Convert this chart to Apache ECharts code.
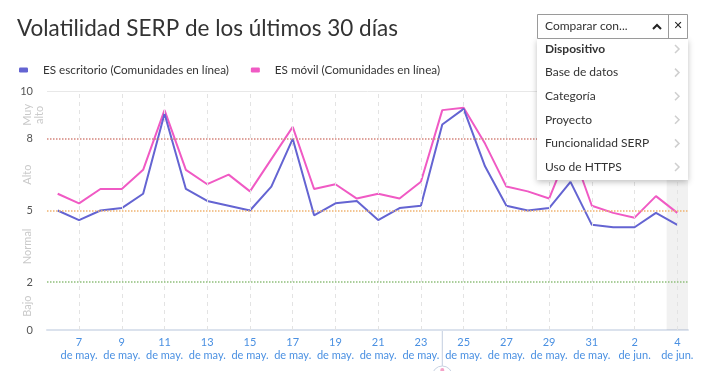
<!DOCTYPE html>
<html><head><meta charset="utf-8">
<script src="https://cdn.jsdelivr.net/npm/echarts@6/dist/echarts.min.js"></script>
<style>html,body{margin:0;padding:0;background:#fff}#c{width:702px;height:371px}</style>
</head><body><div id="c"></div>
<script>
const categories = ['6 de may.','7 de may.','8 de may.','9 de may.','10 de may.','11 de may.','12 de may.','13 de may.','14 de may.','15 de may.','16 de may.','17 de may.','18 de may.','19 de may.','20 de may.','21 de may.','22 de may.','23 de may.','24 de may.','25 de may.','26 de may.','27 de may.','28 de may.','29 de may.','30 de may.','31 de may.','1 de jun.','2 de jun.','3 de jun.','4 de jun.'];
const desktop = [5.0,4.6,5.0,5.1,5.7,9.05,5.9,5.4,5.2,5.0,6.0,8.0,4.8,5.3,5.4,4.6,5.1,5.2,8.6,9.25,6.85,5.2,5.0,5.1,6.2,4.4,4.3,4.3,4.9,4.4];
const mobile = [5.7,5.3,5.9,5.9,6.7,9.2,6.7,6.1,6.5,5.8,7.15,8.5,5.9,6.1,5.5,5.7,5.5,6.2,9.2,9.3,7.8,6.0,5.8,5.5,7.7,5.2,4.9,4.7,5.6,4.9];
const seriesNames = ['ES escritorio (Comunidades en línea)','ES móvil (Comunidades en línea)'];
const yTickValues = [0,2,5,8,10];
const levelValues = [8,5,2];
const zoneNames = ['Bajo','Normal','Alto','Muy\nalto'];
const zoneBounds = [[0,2],[2,5],[5,8],[8,10]];
const highlightDate = '4 de jun.';
const eventDate = '24 de may.';
const menuItems = ['Dispositivo','Base de datos','Categoría','Proyecto','Funcionalidad SERP','Uso de HTTPS'];

const FONT = 'Lato, "Open Sans", sans-serif';
const levelColors = ['#d4847c','#f0b26f','#8fbf7b'];
const chart = echarts.init(document.getElementById('c'));
const highlightValues = categories.map(c => c === highlightDate ? 10 : null);
const vLines = categories.filter((c, i) => i % 2 === 1).map(c => ({xAxis: c}));

chart.setOption({
  animation: false,
  textStyle: {fontFamily: FONT},
  title: {text: 'Volatilidad SERP de los últimos 30 días', left: 12, top: 12,
    textStyle: {fontSize: 22.5, fontWeight: 'normal', color: '#333', fontFamily: FONT}},
  legend: {left: 14, top: 59, itemGap: 22, itemWidth: 9, itemHeight: 5, icon: 'roundRect',
    data: seriesNames, textStyle: {fontSize: 11.7, color: '#333', padding: [0,0,0,10]}},
  grid: {left: 47, right: 14, top: 91, bottom: 41},
  xAxis: {type: 'category', data: categories, boundaryGap: true,
    axisLine: {lineStyle: {color: '#dbe2ed', width: 2}},
    axisTick: {show: false}, splitLine: {show: false},
    axisLabel: {interval: (i) => i % 2 === 1, color: '#4a90e2', fontSize: 11, lineHeight: 13, margin: 6,
      formatter: (v) => v.replace(' ', '\n')}},
  yAxis: {type: 'value', min: 0, max: 10, interval: 1,
    axisLine: {show: false}, axisTick: {show: false}, splitLine: {show: false},
    axisLabel: {customValues: yTickValues, color: '#555', fontSize: 11, margin: 14}},
  series: [
    {type: 'bar', data: highlightValues, barWidth: '100%', silent: true, z: 1,
      itemStyle: {color: 'rgba(0,0,0,0.055)'},
      markLine: {silent: true, symbol: 'none', label: {show: false},
        lineStyle: {color: '#e3e3e3', type: [4,4], width: 1},
        data: [
          ...vLines,
          {yAxis: 10, lineStyle: {color: '#e8e8e8', type: 'solid', width: 1}}
        ]}},
    {name: seriesNames[0], type: 'line', data: desktop, showSymbol: false, z: 4,
      lineStyle: {color: '#6464d2', width: 2}, itemStyle: {color: '#6464d2'},
      markLine: {silent: true, symbol: 'none', label: {show: false},
        data: levelValues.map((v, i) => ({yAxis: v, lineStyle: {color: levelColors[i], type: 'dotted', width: 1.5}}))}},
    {name: seriesNames[1], type: 'line', data: mobile, showSymbol: false, z: 3,
      lineStyle: {color: '#f05ac4', width: 2}, itemStyle: {color: '#f05ac4'}}
  ]
});

const g = [];
zoneNames.forEach((n, i) => {
  const y = chart.convertToPixel({yAxisIndex: 0}, (zoneBounds[i][0] + zoneBounds[i][1]) / 2);
  const two = n.indexOf('\n') >= 0;
  g.push({type: 'text', x: two ? 33 : 27, y: y, rotation: Math.PI / 2,
    style: {text: n, font: '11px ' + FONT, fill: '#c9c9c9', align: 'center', verticalAlign: 'middle', lineHeight: 12}});
});
const ex = chart.convertToPixel({xAxisIndex: 0}, eventDate);
const ey = chart.convertToPixel({yAxisIndex: 0}, 0);
g.push({type: 'line', shape: {x1: ex, y1: ey, x2: ex, y2: ey + 36}, style: {stroke: '#c2cee0', lineWidth: 1}});
g.push({type: 'circle', shape: {cx: ex, cy: ey + 46, r: 10}, style: {stroke: '#c8d2e2', fill: '#fff', lineWidth: 1}});
g.push({type: 'circle', shape: {cx: ex, cy: ey + 40, r: 2}, style: {fill: '#f4a3c8'}});

// dropdown UI
const bx = 537, by = 14, bw = 151;
const ui = [];
ui.push({type: 'rect', shape: {x: bx, y: 39, width: bw, height: 141},
  style: {fill: '#fff', shadowBlur: 6, shadowColor: 'rgba(0,0,0,0.25)', shadowOffsetY: 2}});
ui.push({type: 'rect', shape: {x: bx + 0.5, y: by + 0.5, width: bw - 1, height: 24}, style: {fill: '#fff', stroke: '#9a9a9a', lineWidth: 1}});
ui.push({type: 'line', shape: {x1: 668.5, y1: by, x2: 668.5, y2: by + 25}, style: {stroke: '#9a9a9a', lineWidth: 1}});
ui.push({type: 'text', x: 545, y: 26, style: {text: 'Comparar con...', font: '12px ' + FONT, fill: '#333', verticalAlign: 'middle'}});
ui.push({type: 'polyline', shape: {points: [[653, 29], [657, 25], [661, 29]]}, style: {stroke: '#222', lineWidth: 2, fill: null}});
ui.push({type: 'text', x: 678, y: 26, style: {text: '✕', font: 'bold 11px "DejaVu Sans"', fill: '#222', align: 'center', verticalAlign: 'middle'}});
menuItems.forEach((m, i) => {
  const y = 49 + i * 23.6;
  ui.push({type: 'text', x: 545, y: y, style: {text: m, font: (i === 0 ? 'bold ' : '') + '12px ' + FONT, fill: '#333', verticalAlign: 'middle'}});
  ui.push({type: 'polyline', shape: {points: [[675, y - 4], [679, y], [675, y + 4]]}, style: {stroke: '#cfcfcf', lineWidth: 1.5, fill: null}});
});
ui.forEach(e => { e.z = 100; });
chart.setOption({graphic: {elements: g.concat(ui)}});
</script>
</body></html>
